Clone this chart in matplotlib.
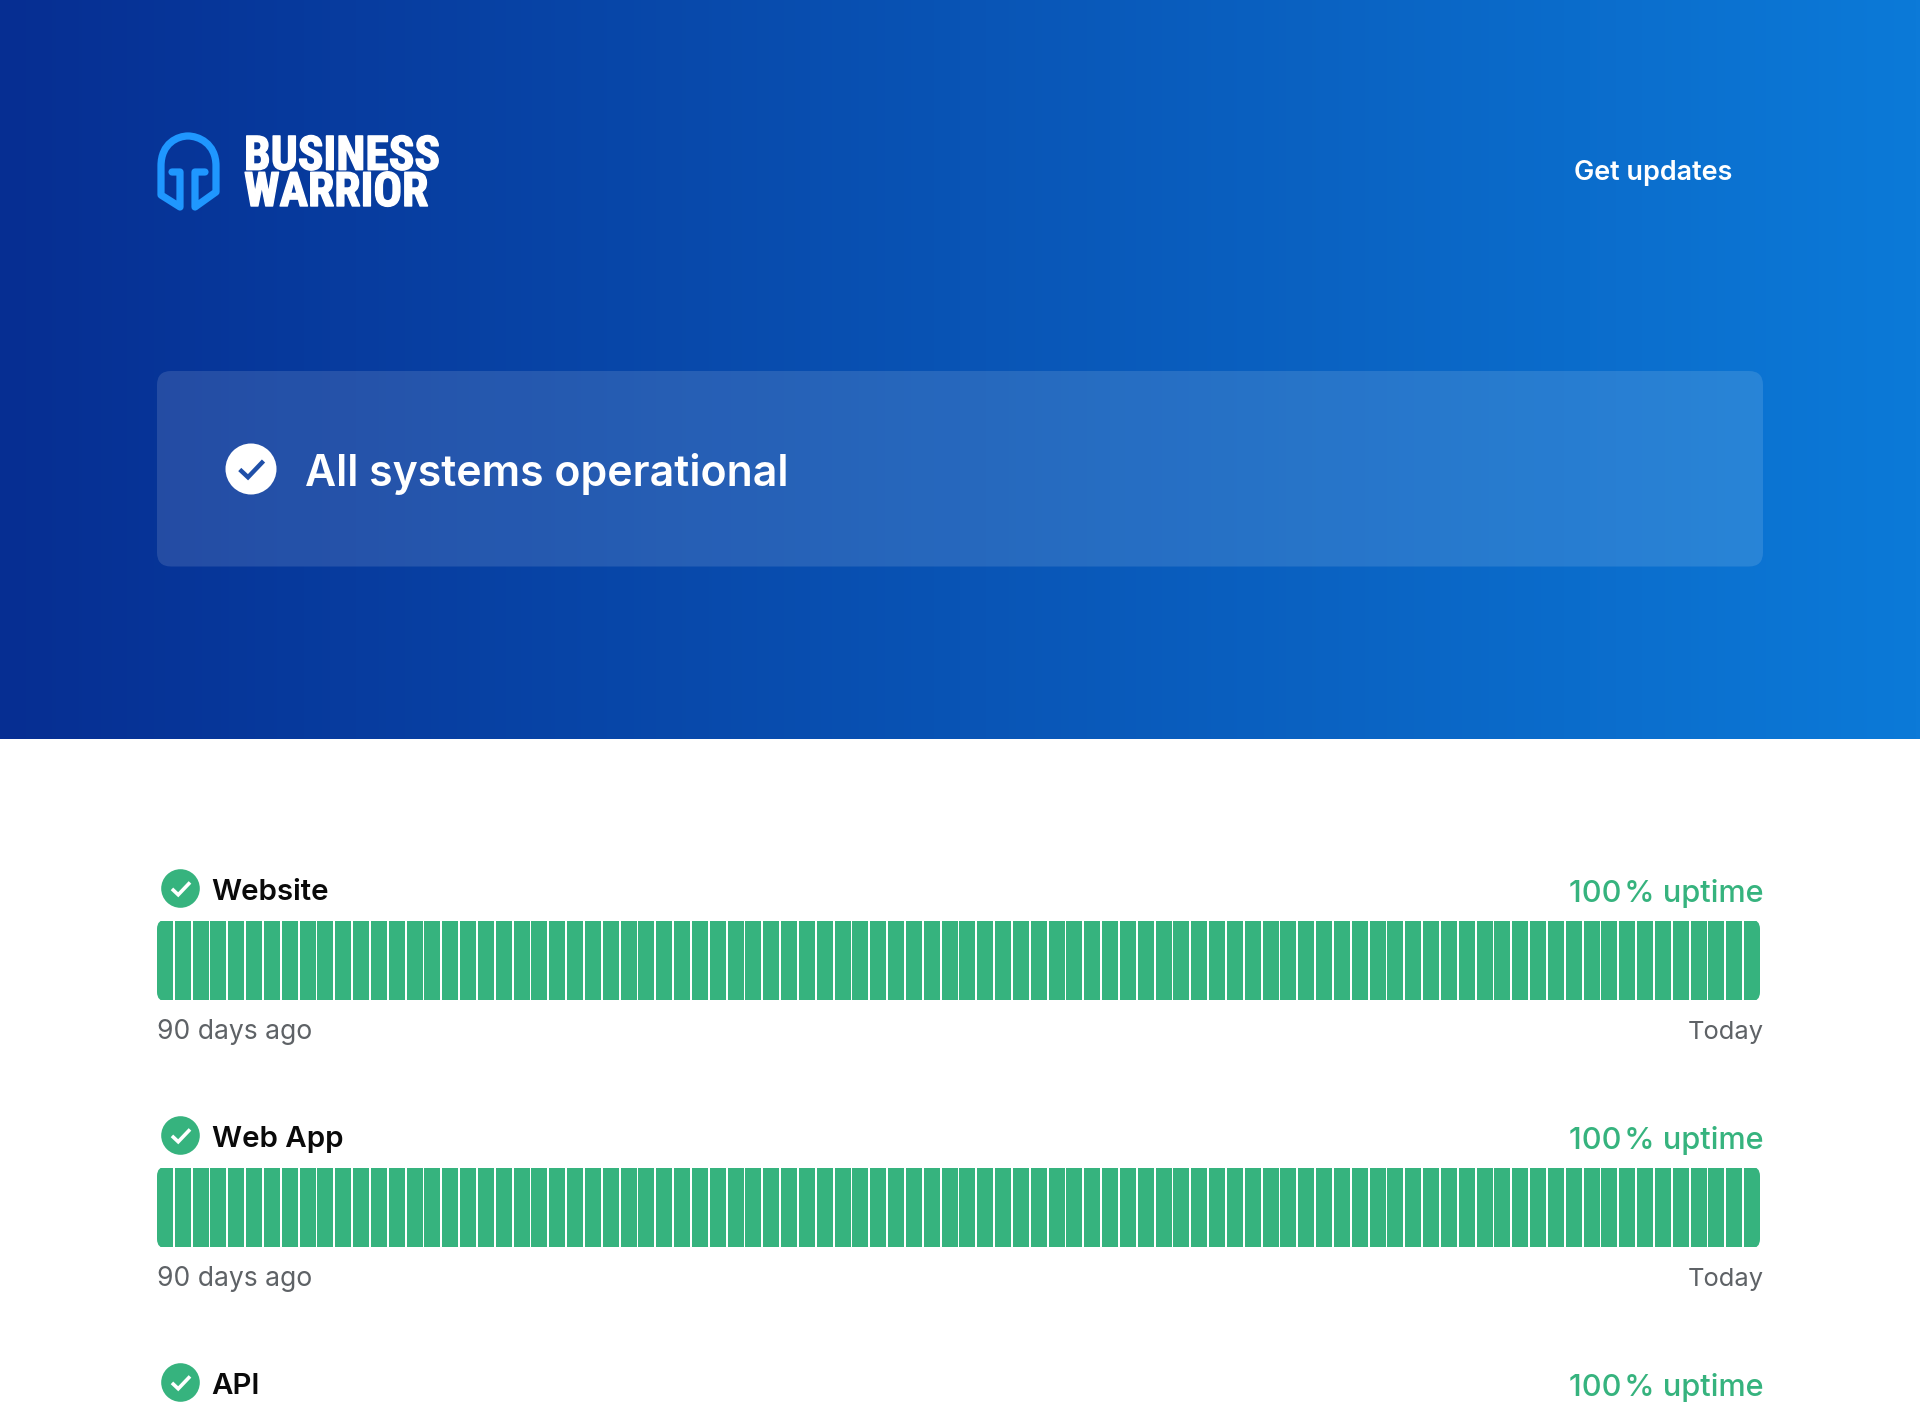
#!/usr/bin/env python3
"""Status page: header banner plus 90-day uptime bars per service."""

import matplotlib
matplotlib.use("Agg")

import logging

import matplotlib.pyplot as plt
import numpy as np
from matplotlib.patches import Circle, FancyBboxPatch, PathPatch
from matplotlib.path import Path
from matplotlib import patheffects as pe

logging.getLogger("matplotlib.font_manager").setLevel(logging.ERROR)

services = ["Website", "Web App", "API"]
uptime_pct = [100, 100, 100]
daily_uptime = {
    "Website": [100] * 90,
    "Web App": [100] * 90,
    "API": [100] * 90,
}
headline = "All systems operational"
updates_label = "Get updates"
logo_lines = ["BUSINESS", "WARRIOR"]
start_label = "90 days ago"
end_label = "Today"

W, H = 1920, 1415
GREEN = "#36b37e"
GREY = "#5e6266"
FONT = ["Inter", "DejaVu Sans"]
LOGO_FONT = ["Roboto Condensed", "Roboto", "DejaVu Sans"]


def px(size):
    # font size in pixels to points at dpi 100
    return size * 0.72


def draw_check(ax, cx, cy, scale, color, lw):
    xs = [cx - 0.45 * scale, cx - 0.12 * scale, cx + 0.5 * scale]
    ys = [cy + 0.02 * scale, cy + 0.33 * scale, cy - 0.32 * scale]
    ax.plot(xs, ys, color=color, lw=lw, solid_capstyle="butt", solid_joinstyle="miter")


def draw_helmet(ax):
    verts = [
        (172, 172), (180, 172), (180, 207), (161, 195), (161, 166),
        (161, 143), (178, 136), (188, 136),
        (198, 136), (216, 143), (216, 166),
        (216, 192), (195, 207), (195, 172), (205, 172),
    ]
    codes = [
        Path.MOVETO, Path.LINETO, Path.LINETO, Path.LINETO, Path.LINETO,
        Path.CURVE4, Path.CURVE4, Path.CURVE4,
        Path.CURVE4, Path.CURVE4, Path.CURVE4,
        Path.LINETO, Path.LINETO, Path.LINETO, Path.LINETO,
    ]
    ax.add_patch(PathPatch(Path(verts, codes), fill=False, edgecolor="#1f97ff",
                           lw=5.2, joinstyle="round", capstyle="round"))


def main():
    fig = plt.figure(figsize=(W / 100, H / 100), dpi=100, facecolor="white")
    ax = fig.add_axes([0, 0, 1, 1])
    ax.set_xlim(0, W)
    ax.set_ylim(H, 0)
    ax.axis("off")

    # header gradient
    ramp = np.linspace(0, 1, 512)
    left, right = np.array([6, 46, 146]) / 255, np.array([12, 122, 216]) / 255
    grad = (left[None, :] * (1 - ramp[:, None]) + right[None, :] * ramp[:, None])[None, :, :]
    ax.imshow(grad, extent=(0, W, 739.5, 0), aspect="auto", zorder=0)
    ax.set_xlim(0, W)
    ax.set_ylim(H, 0)

    # banner panel
    ax.add_patch(FancyBboxPatch((157 + 14, 371 + 14), 1606 - 28, 195.5 - 28,
                                boxstyle="round,pad=14,rounding_size=14",
                                fc="white", ec="none", alpha=0.12, zorder=1))
    ax.add_patch(Circle((251, 469), 25.5, fc="white", ec="none", zorder=2))
    draw_check(ax, 251, 469, 25, "#1f4fa8", 3.2)
    ax.text(305, 486, headline, color="white", fontsize=px(42.8), family=FONT,
            weight="semibold", va="baseline", ha="left", zorder=3)

    # logo and top link
    draw_helmet(ax)
    ax.text(244, 206, "\n".join(logo_lines), color="white", fontsize=px(47.5),
            family=LOGO_FONT, weight="black", va="baseline", ha="left",
            linespacing=0.78,
            path_effects=[pe.withStroke(linewidth=1.0, foreground="white")])
    ax.text(1732, 173.5, updates_label, color="white", fontsize=px(27), family=FONT,
            weight="semibold", va="center", ha="right")

    # one block per service
    for i, (name, pct) in enumerate(zip(services, uptime_pct)):
        dy = 247 * i
        ax.add_patch(Circle((180.5, 888.5 + dy), 19.3, fc=GREEN, ec="none"))
        draw_check(ax, 180.5, 888.5 + dy, 19, "white", 2.6)
        ax.text(211.5, 900 + dy, name, color="#0a0a0a", fontsize=px(29.5), family=FONT,
                weight="semibold", va="baseline", ha="left")
        ax.text(1764, 902 + dy, f"{pct}\u200a% uptime", color=GREEN, fontsize=px(30.7),
                family=FONT, weight="medium", va="baseline", ha="right")

        bar_top = 921 + dy
        if bar_top >= H:
            continue

        values = daily_uptime[name]
        bar_ax = fig.add_axes([157 / W, 1 - (bar_top + 79) / H, 1603 / W, 79 / H])
        bar_ax.bar(range(len(values)), values, width=0.89, color=GREEN, linewidth=0)
        bar_ax.set_xlim(-0.445, len(values) - 0.555)
        bar_ax.set_ylim(0, 100)
        bar_ax.axis("off")
        # rounded outer corners of the strip
        clip = FancyBboxPatch((0.006, 0.1), 0.988, 0.8,
                              boxstyle="round,pad=0.006,rounding_size=0.006",
                              transform=bar_ax.transAxes, mutation_aspect=20,
                              fc="none", ec="none")
        bar_ax.add_patch(clip)
        for bar in bar_ax.patches[:-1]:
            bar.set_clip_path(clip)

        ax.text(157, 1039 + dy, start_label, color=GREY, fontsize=px(26.5), family=FONT,
                va="baseline", ha="left")
        ax.text(1764, 1039 + dy, end_label, color=GREY, fontsize=px(25.5), family=FONT,
                va="baseline", ha="right")

    fig.savefig("out.png", dpi=100)
    plt.close(fig)


if __name__ == "__main__":
    main()
